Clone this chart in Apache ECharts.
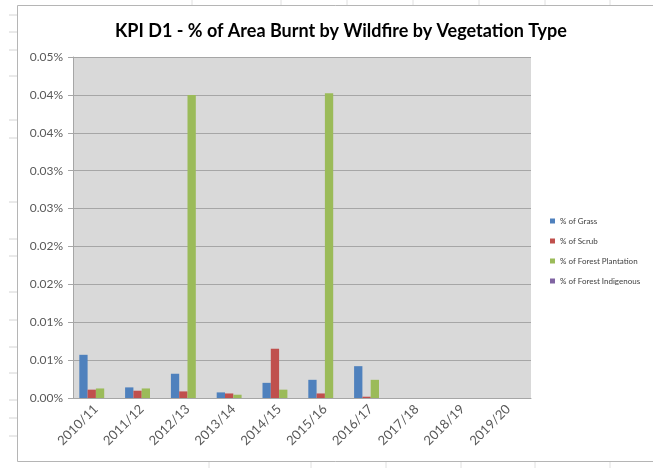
<!DOCTYPE html>
<html>
<head>
<meta charset="utf-8">
<script src="https://cdn.jsdelivr.net/npm/echarts@6/dist/echarts.min.js"></script>
<style>
    html, body { margin: 0; padding: 0; background: #fff; }
    #chart { width: 653px; height: 468px; }
</style>
</head>
<body>
<div id="chart"></div>
<script>
    // years on the x axis
    var years = ['2010/11', '2011/12', '2012/13', '2013/14', '2014/15', '2015/16', '2016/17', '2017/18', '2018/19', '2019/20'];
    // values in percent (0.04 => 0.04%)
    var grass = [0.0057, 0.0014, 0.0032, 0.00074, 0.0020, 0.0024, 0.0042, 0, 0, 0];
    var scrub = [0.0011, 0.00096, 0.00087, 0.0006, 0.0065, 0.0006, 0.00017, 0, 0, 0];
    var forestPlantation = [0.00126, 0.00126, 0.0400, 0.00043, 0.0011, 0.0402, 0.0024, 0, 0, 0];
    var forestIndigenous = [0, 0, 0, 0, 0, 0, 0, 0, 0, 0];
    var seriesNames = ['% of Grass', '% of Scrub', '% of Forest Plantation', '% of Forest Indigenous'];
    // excel rounds the half steps, so labels repeat
    var yTickLabels = ['0.00%', '0.01%', '0.01%', '0.02%', '0.02%', '0.03%', '0.03%', '0.04%', '0.04%', '0.05%'];

    var colors = ['#4F81BD', '#C0504D', '#9BBB59', '#8064A2'];
    var font = 'Lato, "Open Sans", sans-serif';

    //spreadsheet lines behind the chart
    var sheetLines = [];
    [15, 32, 50, 76, 120, 138, 202, 239, 256, 292, 320, 347, 373, 400, 418, 436].forEach(function (y) {
        sheetLines.push({ type: 'line', shape: { x1: 9, y1: y, x2: 17, y2: y }, style: { stroke: '#d4d4d4', lineWidth: 1 }, silent: true });
    });
    [192, 281, 347, 413, 479, 545, 610].forEach(function (x) {
        sheetLines.push({ type: 'line', shape: { x1: x, y1: 0, x2: x, y2: 5 }, style: { stroke: '#e0e0e0', lineWidth: 1 }, silent: true });
    });
    [209, 311, 386, 461, 535, 610].forEach(function (x) {
        sheetLines.push({ type: 'line', shape: { x1: x, y1: 462, x2: x, y2: 468 }, style: { stroke: '#e0e0e0', lineWidth: 1 }, silent: true });
    });
    //chart area border
    sheetLines.push({ type: 'polyline', shape: { points: [[660, 5.5], [17.5, 5.5], [17.5, 461.5], [660, 461.5]] }, style: { stroke: '#b5b5b5', fill: null, lineWidth: 1 }, silent: true });

    var data = [grass, scrub, forestPlantation, forestIndigenous];
    var series = [];
    for (let i = 0; i < seriesNames.length; i++) {
        series.push({
            name: seriesNames[i],
            type: 'bar',
            data: data[i],
            barWidth: 8.3,
            barGap: '0%',
            itemStyle: { color: colors[i] },
            animation: false
        });
    }

    var chart = echarts.init(document.getElementById('chart'));
    chart.setOption({
        animation: false,
        title: {
            text: 'KPI D1 - % of Area Burnt by Wildfire by Vegetation Type',
            left: 110,
            top: 17,
            textStyle: { fontFamily: font, fontSize: 18, fontWeight: 'bold', color: '#000' }
        },
        legend: {
            orient: 'vertical',
            left: 545,
            top: 211,
            itemWidth: 5,
            itemHeight: 5,
            itemGap: 10,
            icon: 'rect',
            textStyle: { fontFamily: font, fontSize: 8, color: '#404040', lineHeight: 10 },
            data: seriesNames
        },
        grid: {
            left: 73,
            top: 57,
            right: 122,
            bottom: 70,
            show: true,
            backgroundColor: '#d9d9d9',
            borderWidth: 0
        },
        xAxis: {
            type: 'category',
            data: years,
            axisLine: { lineStyle: { color: '#a6a6a6' } },
            axisTick: { length: 5, lineStyle: { color: '#a6a6a6' } },
            axisLabel: { rotate: 45, fontFamily: font, fontSize: 13, color: '#595959', margin: 9, interval: 0 }
        },
        yAxis: {
            type: 'value',
            min: 0,
            max: 0.045,
            interval: 0.005,
            axisLine: { show: true, lineStyle: { color: '#a6a6a6' } },
            axisTick: { show: true, length: 5, lineStyle: { color: '#a6a6a6' } },
            splitLine: { lineStyle: { color: '#a6a6a6', width: 1 } },
            axisLabel: {
                fontFamily: font, fontSize: 12, color: '#595959', margin: 10,
                formatter: function (v) { return yTickLabels[Math.round(v / 0.005)]; }
            }
        },
        graphic: sheetLines,
        series: series
    });
</script>
</body>
</html>
